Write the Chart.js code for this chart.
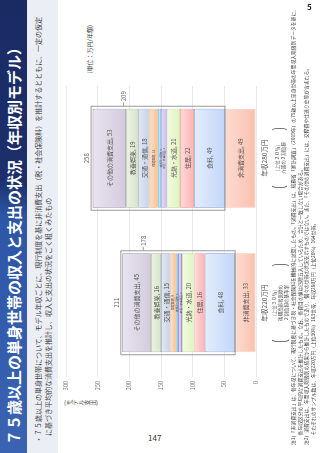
<!DOCTYPE html>
<html lang="ja">
<head>
<meta charset="utf-8">
<script src="https://cdn.jsdelivr.net/npm/chart.js@4.4.1/dist/chart.umd.min.js"></script>
<style>
html, body { margin: 0; padding: 0; background: #fff; width: 320px; height: 453px; overflow: hidden;
  font-family: "Noto Sans CJK JP", "Noto Sans", sans-serif; }
#page { position: absolute; left: 0; top: 0; width: 453px; height: 320px;
  transform-origin: 0 0; transform: translateY(453px) rotate(-90deg); }
#band { position: absolute; left: 0; top: 0; width: 453px; height: 27px;
  background: linear-gradient(100deg, #3a64b2 0%, #2d56a6 52%, #1c2f6c 60%, #1a2b63 100%); }
#title { position: absolute; left: 8px; top: 4px; font-size: 15px; font-weight: bold; color: #fff; white-space: nowrap; line-height: 19px; }
#lead { position: absolute; left: 0; top: 27px; width: 453px; height: 31px; background: #eceef5; }
.lead { position: absolute; font-size: 7px; line-height: 10px; color: #444; white-space: nowrap; }
#unit { position: absolute; left: 370px; top: 85px; width: 58px; text-align: right; font-size: 6px; color: #444; white-space: nowrap; }
#ytitle { position: absolute; left: 47px; top: 64px; font-size: 6px; color: #444; writing-mode: vertical-rl; line-height: 7px; }
#wrap { position: absolute; left: 40px; top: 50px; width: 340px; height: 215px; }
.cat { position: absolute; top: 259px; width: 80px; margin-left: -40px; text-align: center; font-size: 6.5px; color: #555; white-space: nowrap; }
.brk { position: absolute; top: 270px; border: 1px solid #777; border-top-color: transparent; border-bottom-color: transparent;
  border-radius: 6px; text-align: center; font-size: 4.5px; line-height: 6px; color: #555; white-space: nowrap; box-sizing: border-box; }
#notes { position: absolute; left: 8px; top: 290px; font-size: 4.8px; line-height: 6.7px; color: #444; white-space: nowrap; }
#pg5 { position: absolute; left: 307px; top: 1px; font-size: 8px; font-weight: bold; color: #222; }
#pg147 { position: absolute; left: 148px; top: 432px; font-size: 8px; color: #333; }
</style>
</head>
<body>
<div id="page">
  <div id="band"><div id="title">７５歳以上の単身世帯の収入と支出の状況（年収別モデル）</div></div>
  <div id="lead">
    <div class="lead" style="left:10px; top:6px;">・７５歳以上の単身世帯について、モデル年収ごとに、現行制度を基に非消費支出（税・社会保険料）を推計するとともに、一定の仮定</div>
    <div class="lead" style="left:17px; top:16px;">に基づき平均的な消費支出を推計し、収入と支出の状況をごく粗くみたもの</div>
  </div>
  <div id="unit">(単位：万円/年額)</div>
  <div id="ytitle">(モデル支出)</div>
  <div id="wrap"><canvas id="chart" width="340" height="215"></canvas></div>

  <div class="cat" style="left:150px;">年収220万円</div>
  <div class="brk" style="left:111px; width:78px; height:21px;">[上位３０％]<br>後期高齢者医療の<br>２割負担の基準案</div>
  <div class="cat" style="left:295px;">年収280万円</div>
  <div class="brk" style="left:265px; width:60px; height:19px; padding-top:3px;">[上位２０％]<br>介護の２割負担</div>

  <div id="notes">
    注1）「非消費支出」は、各年収について、現行制度に基づき税・社会保険料を機械的に試算したもの。「消費支出」は、総務省「家計調査」（2019年）の75歳以上単身世帯の年間収入階級別データを基に、<br>
    　　各年収区分の平均的な消費支出を推計したもの。なお、各費目の値は四捨五入しているため、合計と一致しない場合がある。<br>
    注2）消費支出は、年間収入階級別の結果から推計したものであり、個々の世帯の状況を示すものではない。また、「その他の消費支出」には、交際費や仕送り金等が含まれる。<br>
    　　それぞれのサンプル数は、年収220万円（上位30%）183世帯、年収280万円（上位20%）164世帯。
  </div>
</div>
<div id="pg5">5</div>
<div id="pg147">147</div>

<script>
// two model incomes, stacks listed bottom to top
const incomeLabels = ['年収220万円', '年収280万円'];
const nonConsumption = [33, 49];
const food = [48, 49];
const housing = [16, 22];
const utilities = [20, 21];
const furniture = [6, 9];
const clothing = [3, 5];
const medical = [9, 13];
const transport = [15, 18];
const culture = [16, 19];
const otherSpending = [45, 53];
const spendTotals = [211, 258];
const consumptionTotals = [178, 209];
const yTicks = [0, 50, 100, 150, 200, 250, 300];

const series = [
  { label: '非消費支出', data: nonConsumption, top: '#fddcd1', bg: '#f9c0ad', line: '#f9c0ad', tag: 'main' },
  { label: '食料', data: food, top: '#e3edfd', bg: '#c3d6f8', line: '#6f96dd', tag: 'main' },
  { label: '住居', data: housing, top: '#ffdada', bg: '#fdb4b4', line: '#ef8b8b', tag: 'main' },
  { label: '光熱・水道', data: utilities, top: '#f2fbe2', bg: '#e0f3bf', line: '#b6d58e', tag: 'main' },
  { label: '家具・家事用品', data: furniture, top: '#e4daf5', bg: '#cfbeec', line: '#a993d2', tag: 'pair' },
  { label: '被服及び履物', data: clothing, top: '#c9ebfa', bg: '#a2dbf4', line: '#62bde3', tag: 'pair' },
  { label: '保健医療', data: medical, top: '#fde0c6', bg: '#fbc192', line: '#f1a462', tag: 'tiny' },
  { label: '交通・通信', data: transport, top: '#e2e8f3', bg: '#c7d2e7', line: '#8ea0c2', tag: 'main' },
  { label: '教養娯楽', data: culture, top: '#ecf2e4', bg: '#d8e4c9', line: '#a7b98f', tag: 'main' },
  { label: 'その他の消費支出', data: otherSpending, top: '#e8e4ef', bg: '#d2cbde', line: '#988eaa', tag: 'main' }
];

const FONT = '"Noto Sans CJK JP", "Noto Sans", sans-serif';
Chart.defaults.font.family = FONT;

// light at the top of each segment, fuller colour at its base
function segmentFill(s, idx) {
  return (c) => {
    const chart = c.chart;
    if (!chart.chartArea || c.type !== 'data') return s.bg;
    const y = chart.scales.y;
    const j = c.dataIndex;
    let start = 0;
    for (let k = 0; k < idx; k++) start += series[k].data[j];
    const end = start + s.data[j];
    const g = chart.ctx.createLinearGradient(0, y.getPixelForValue(end), 0, y.getPixelForValue(start));
    g.addColorStop(0, s.top);
    g.addColorStop(1, s.bg);
    return g;
  };
}

const segLabels = {
  id: 'segLabels',
  afterDatasetsDraw(chart) {
    const ctx = chart.ctx;
    const yScale = chart.scales.y;
    const sets = chart.data.datasets;
    const metas = sets.map((d, i) => chart.getDatasetMeta(i));
    ctx.save();
    ctx.textAlign = 'center';
    ctx.textBaseline = 'middle';
    ctx.fillStyle = '#555';
    sets.forEach((ds, i) => {
      metas[i].data.forEach((bar, j) => {
        const cy = (bar.y + bar.base) / 2;
        if (ds.tag === 'main') {
          ctx.font = '6px ' + FONT;
          ctx.fillText(ds.label + ', ' + ds.data[j], bar.x, cy + 0.5);
        } else if (ds.tag === 'tiny') {
          ctx.font = '3px ' + FONT;
          ctx.fillText(ds.label + ', ' + ds.data[j], bar.x, cy);
        }
      });
    });
    // the two thin segments share one two-line label
    const pairIdx = sets.map((d, i) => d.tag === 'pair' ? i : -1).filter(i => i >= 0);
    metas[pairIdx[0]].data.forEach((bar, j) => {
      const topBar = metas[pairIdx[pairIdx.length - 1]].data[j];
      const cy = (topBar.y + bar.base) / 2;
      ctx.font = '2.6px ' + FONT;
      ctx.fillText(sets[pairIdx[1]].label + ', ' + sets[pairIdx[1]].data[j], bar.x, cy - 1.6);
      ctx.fillText(sets[pairIdx[0]].label + ', ' + sets[pairIdx[0]].data[j], bar.x, cy + 1.6);
    });
    // frame round the consumption part, totals
    const first = metas[0], last = metas[metas.length - 1];
    ctx.strokeStyle = '#9a9a9a';
    ctx.lineWidth = 1;
    first.data.forEach((bar, j) => {
      const topY = last.data[j].y;
      const w = bar.width;
      ctx.strokeRect(bar.x - w / 2 - 2.5, topY - 1.5, w + 5, bar.y - topY + 1.5);
      ctx.font = '6px ' + FONT;
      ctx.fillStyle = '#666';
      ctx.textAlign = 'center';
      ctx.fillText(String(spendTotals[j]), bar.x, topY - 6);
      const cy = yScale.getPixelForValue(consumptionTotals[j]);
      const x0 = bar.x + w / 2 + 2.5;
      ctx.beginPath();
      ctx.moveTo(x0, cy);
      ctx.lineTo(x0 + 4, cy);
      ctx.stroke();
      ctx.textAlign = 'left';
      ctx.fillText(String(consumptionTotals[j]), x0 + 5, cy);
    });
    ctx.restore();
  }
};

new Chart(document.getElementById('chart'), {
  type: 'bar',
  data: {
    labels: incomeLabels,
    datasets: series.map((s, i) => ({
      label: s.label,
      data: s.data,
      tag: s.tag,
      backgroundColor: segmentFill(s, i),
      borderColor: s.line,
      borderWidth: 0.8,
      borderSkipped: false,
      barPercentage: 0.685,
      categoryPercentage: 1
    }))
  },
  options: {
    responsive: false,
    animation: false,
    layout: { padding: { left: 0, right: 13, top: 16, bottom: 9 } },
    plugins: { legend: { display: false }, tooltip: { enabled: false }, title: { display: false } },
    scales: {
      x: { stacked: true, display: false, offset: true },
      y: {
        stacked: true,
        min: 0,
        max: 300,
        afterFit: (scale) => { scale.width = 38; },
        afterBuildTicks: (scale) => { scale.ticks = yTicks.map(v => ({ value: v })); },
        ticks: { font: { size: 5.5 }, color: '#777', padding: 4 },
        grid: { color: '#e3e3e3', lineWidth: 0.8, tickLength: 2 },
        border: { display: false }
      }
    }
  },
  plugins: [segLabels]
});
</script>
</body>
</html>
